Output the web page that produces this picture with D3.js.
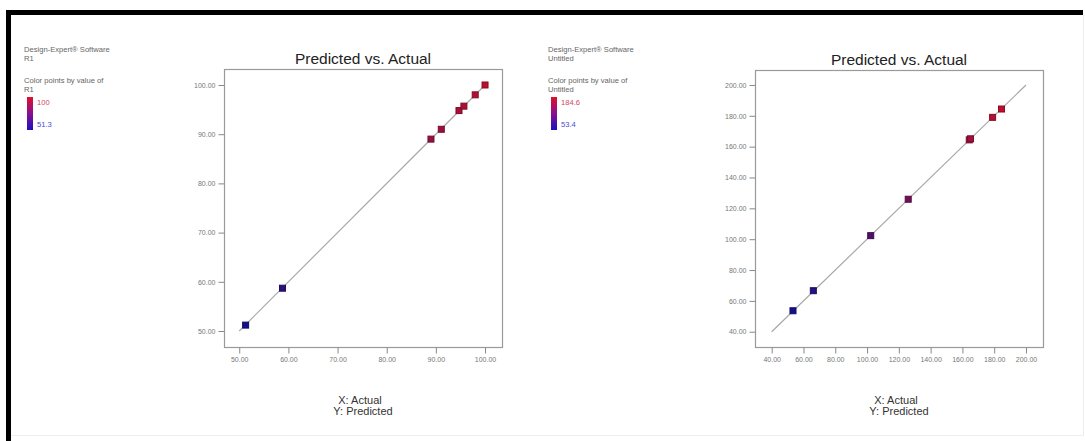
<!DOCTYPE html>
<html>
<head>
<meta charset="utf-8">
<script src="https://cdn.jsdelivr.net/npm/d3@7"></script>
<style>
html,body{margin:0;padding:0;background:#fff;}
svg{display:block;font-family:"Liberation Sans",Arial,sans-serif;}
</style>
</head>
<body>
<svg id="chart" width="1085" height="441"></svg>
<script>
// ---------- DATA ----------
const title = "Predicted vs. Actual";
const xAxisLabel = "X: Actual";
const yAxisLabel = "Y: Predicted";
const softwareLabel = "Design-Expert® Software";
const colorByLabel = "Color points by value of";

// Panel 1 (R1)
const response1 = "R1";
const actual1    = [51.3, 58.8, 89.0, 91.1, 94.7, 95.7, 98.0, 100.0];
const predicted1 = [51.2, 58.7, 89.0, 91.0, 94.8, 95.7, 98.0, 100.0];
const range1 = [51.3, 100];
const ticks1 = [50, 60, 70, 80, 90, 100];
const lineEnds1 = [50, 100];

// Panel 2 (Untitled)
const response2 = "Untitled";
const actual2    = [53.4, 66.2, 102.3, 125.9, 164.3, 165.1, 179.0, 184.6];
const predicted2 = [53.6, 66.6, 102.3, 125.9, 164.4, 165.1, 179.0, 184.4];
const range2 = [53.4, 184.6];
const ticks2 = [40, 60, 80, 100, 120, 140, 160, 180, 200];
const lineEnds2 = [40, 200];

// ---------- DRAW ----------
const svg = d3.select("#chart");
const lowColor = "#14108a", highColor = "#b8102e";

// outer frame (top + left thick black)
svg.append("rect").attr("x", 6).attr("y", 10).attr("width", 1077).attr("height", 5).attr("fill", "#000");
svg.append("rect").attr("x", 6).attr("y", 10).attr("width", 5).attr("height", 431).attr("fill", "#000");
svg.append("line").attr("x1", 11).attr("x2", 1083).attr("y1", 435.5).attr("y2", 435.5).attr("stroke", "#eee");
svg.append("line").attr("x1", 1083.5).attr("x2", 1083.5).attr("y1", 15).attr("y2", 436).attr("stroke", "#eee");

function drawPanel(cfg) {
  const g = svg.append("g");
  const x = d3.scaleLinear().domain(cfg.xDomain).range([cfg.left, cfg.right]);
  const y = d3.scaleLinear().domain(cfg.yDomain).range([cfg.bottom, cfg.top]);
  const color = d3.scaleLinear().domain(cfg.range).range([lowColor, highColor]).interpolate(d3.interpolateRgb).clamp(true);

  // legend
  const lg = g.append("g").attr("transform", `translate(${cfg.legX},${cfg.legY})`);
  const lt = (t, yy, fill) => lg.append("text").attr("x", 0).attr("y", yy).text(t)
      .attr("font-size", 7.6).attr("fill", fill || "#666");
  lt(softwareLabel, 0);
  lt(cfg.response, 9);
  lt(colorByLabel, 31);
  lt(cfg.response, 40);
  const gid = "grad" + cfg.id;
  const grad = svg.append("defs").append("linearGradient").attr("id", gid)
    .attr("x1", 0).attr("y1", 0).attr("x2", 0).attr("y2", 1);
  grad.append("stop").attr("offset", "0%").attr("stop-color", "#e0102a");
  grad.append("stop").attr("offset", "50%").attr("stop-color", "#8a1090");
  grad.append("stop").attr("offset", "100%").attr("stop-color", "#1a10c0");
  lg.append("rect").attr("x", 3).attr("y", 45).attr("width", 6).attr("height", 33)
    .attr("fill", `url(#${gid})`);
  lg.append("text").attr("x", 13).attr("y", 53).text(cfg.range[1]).attr("font-size", 7.6).attr("fill", "#d0485a");
  lg.append("text").attr("x", 13).attr("y", 75).text(cfg.range[0]).attr("font-size", 7.6).attr("fill", "#4a4ad8");

  // title
  g.append("text").attr("x", (cfg.left + cfg.right) / 2).attr("y", cfg.top - 5)
    .attr("text-anchor", "middle").attr("font-size", 15.5).attr("fill", "#222").text(title);

  // frame
  g.append("rect").attr("x", cfg.left + 0.5).attr("y", cfg.top + 0.5)
    .attr("width", cfg.right - cfg.left).attr("height", cfg.bottom - cfg.top)
    .attr("fill", "none").attr("stroke", "#9a9a9a").attr("stroke-width", 1.2);

  // axes
  const fmt = d3.format(".2f");
  const xa = g.append("g").attr("transform", `translate(0,${cfg.bottom + 0.5})`)
    .call(d3.axisBottom(x).tickValues(cfg.ticks).tickFormat(fmt).tickSize(6).tickPadding(4));
  const ya = g.append("g").attr("transform", `translate(${cfg.left + 0.5},0)`)
    .call(d3.axisLeft(y).tickValues(cfg.ticks).tickFormat(fmt).tickSize(6).tickPadding(3));
  [xa, ya].forEach(a => {
    a.select(".domain").remove();
    a.selectAll(".tick line").attr("stroke", "#888");
    a.selectAll(".tick text").attr("fill", "#777").attr("font-size", 7)
      .attr("font-family", "'Liberation Sans',Arial,sans-serif");
  });

  // diagonal line
  g.append("line")
    .attr("x1", x(cfg.lineEnds[0])).attr("y1", y(cfg.lineEnds[0]))
    .attr("x2", x(cfg.lineEnds[1])).attr("y2", y(cfg.lineEnds[1]))
    .attr("stroke", "#a8a8a8").attr("stroke-width", 1.2);

  // points
  const pts = cfg.actual.map((a, i) => ({a, p: cfg.predicted[i]}));
  const s = 6;
  g.selectAll("rect.pt").data(pts).join("rect").attr("class", "pt")
    .attr("x", d => x(d.a) - s / 2).attr("y", d => y(d.p) - s / 2)
    .attr("width", s).attr("height", s)
    .attr("fill", d => color(d.a))
    .attr("stroke", d => d3.color(color(d.a)).darker(0.8))
    .attr("stroke-width", 1);

  // axis titles
  const cx = (cfg.left + cfg.right) / 2;
  g.append("text").attr("x", cx - 3).attr("y", 404).attr("text-anchor", "middle")
    .attr("font-size", 11).attr("fill", "#333").text(xAxisLabel);
  g.append("text").attr("x", cx).attr("y", 415).attr("text-anchor", "middle")
    .attr("font-size", 11).attr("fill", "#333").text(yAxisLabel);
}

drawPanel({
  id: 1, response: response1, actual: actual1, predicted: predicted1, range: range1,
  ticks: ticks1, lineEnds: lineEnds1,
  xDomain: [46.9, 103.45], yDomain: [46.75, 103.25],
  left: 224, right: 502, top: 69, bottom: 347, legX: 24, legY: 52
});
drawPanel({
  id: 2, response: response2, actual: actual2, predicted: predicted2, range: range2,
  ticks: ticks2, lineEnds: lineEnds2,
  xDomain: [29.5, 210.7], yDomain: [30.1, 209.7],
  left: 755, right: 1043, top: 70, bottom: 347, legX: 548, legY: 52
});
</script>
</body>
</html>
